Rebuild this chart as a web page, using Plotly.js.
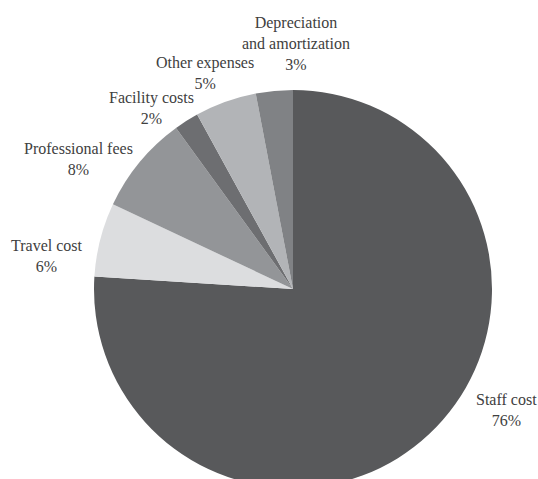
<!DOCTYPE html>
<html>
<head>
<meta charset="utf-8">
<script src="https://cdn.plot.ly/plotly-3.0.1.min.js"></script>
<style>
html, body { margin: 0; padding: 0; overflow: hidden; background: #fff; }
#chart { width: 538px; height: 580px; }
</style>
</head>
<body>
<div id="chart"></div>
<script>
// Data
const categories = ["Staff cost", "Travel cost", "Professional fees", "Facility costs", "Other expenses", "Depreciation and amortization"];
const labelText = ["Staff cost", "Travel cost", "Professional fees", "Facility costs", "Other expenses", "Depreciation<br>and amortization"];
const shares = [76, 6, 8, 2, 5, 3];
const sliceColors = ["#58595b", "#dcdddf", "#939598", "#6d6e71", "#b2b4b7", "#808285"];

// Layout geometry (pixels)
const W = 538, H = 580;
const cx = 293, cy = 289, R = 199;
const mL = cx - R, mR = W - (cx + R), mT = cy - R, mB = H - (cy + R);
const plotW = W - mL - mR, plotH = H - mT - mB;

// label anchor positions (pixel centres)
const labelPos = [
  [506, 410],
  [47, 256],
  [78, 159],
  [151, 108],
  [205, 73],
  [296, 43]
];

const total = shares.reduce((a, b) => a + b, 0);
const annotations = categories.map((c, i) => ({
  text: labelText[i] + "<br>" + Math.round(shares[i] / total * 100) + "%",
  xref: "paper", yref: "paper",
  x: (labelPos[i][0] - mL) / plotW,
  y: 1 - (labelPos[i][1] - mT) / plotH,
  xanchor: "center", yanchor: "middle",
  showarrow: false,
  align: "center",
  font: { family: "Liberation Serif, Times New Roman, serif", size: 16, color: "#404040" }
}));

const trace = {
  type: "pie",
  labels: categories,
  values: shares,
  sort: false,
  direction: "clockwise",
  rotation: 0,
  textinfo: "none",
  hoverinfo: "label+percent",
  marker: { colors: sliceColors, line: { width: 0 } },
  domain: { x: [0, 1], y: [0, 1] }
};

const layout = {
  width: W, height: H,
  margin: { l: mL, r: mR, t: mT, b: mB, pad: 0 },
  showlegend: false,
  paper_bgcolor: "#ffffff",
  plot_bgcolor: "#ffffff",
  annotations: annotations
};

Plotly.newPlot("chart", [trace], layout, { displayModeBar: false, staticPlot: true });
</script>
</body>
</html>
